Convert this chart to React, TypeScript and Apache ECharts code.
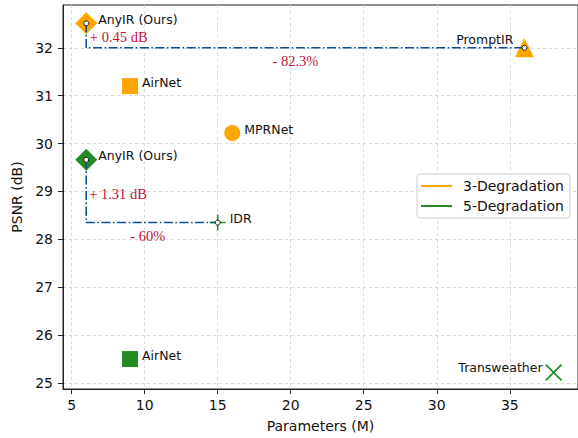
import React, { useEffect, useRef } from "react";
import * as echarts from "echarts";

const methods3 = ["AnyIR (Ours)", "AirNet", "MPRNet", "PromptIR"];
const params3 = [6, 9, 16, 36];
const psnr3 = [32.51, 31.2, 30.22, 32.0];
const symbols3 = ["diamond", "rect", "circle", "triangle"];

const methods5 = ["AnyIR (Ours)", "AirNet", "IDR", "Transweather"];
const params5 = [6, 9, 15, 38];
const psnr5 = [29.66, 25.5, 28.35, 25.22];
const symbols5 = ["diamond", "rect", "plus", "cross"];

const xTicks = [5, 10, 15, 20, 25, 30, 35];
const yTicks = [25, 26, 27, 28, 29, 30, 31, 32];

const annotTexts = ["+ 0.45 dB", "- 82.3%", "+ 1.31 dB", "- 60%"];
const annotX = [6.25, 20.32, 6.2, 10.22];
const annotY = [32.23, 31.715, 28.946, 28.068];

const ORANGE = "#FFA500";
const GREEN = "#228B22";
const NAVY = "#104E8B";
const RED = "#C4123A";

const PLUS = "path://M7.2,0 H8.8 V7.2 H16 V8.8 H8.8 V16 H7.2 V8.8 H0 V7.2 H7.2 Z";
const CROSS =
  "path://M0,1.1 L1.1,0 L8,6.9 L14.9,0 L16,1.1 L9.1,8 L16,14.9 L14.9,16 L8,9.1 L1.1,16 L0,14.9 L6.9,8 Z";

function symbolFor(name: string) {
  if (name === "plus") return PLUS;
  if (name === "cross") return CROSS;
  return name;
}
function sizeFor(name: string) {
  if (name === "diamond") return 22;
  if (name === "triangle") return 19;
  if (name === "plus") return 16;
  if (name === "cross") return 17;
  return 16;
}

export default function App() {
  const ref = useRef<HTMLDivElement>(null);
  useEffect(() => {
    if (!ref.current) return;
    const chart = echarts.init(ref.current, null, { renderer: "svg" });
    const font = "DejaVu Sans";

    const labelItems = (
      names: string[],
      xs: number[],
      ys: number[]
    ) =>
      names.map((n, i) => {
        const item: any = { value: [xs[i], ys[i]], name: n };
        if (n === "PromptIR") {
          item.label = { position: "left", distance: 11, offset: [0, -8] };
        } else if (n === "Transweather") {
          item.label = { position: "left", distance: 11, offset: [0, -5] };
        }
        return item;
      });

    const option: any = {
      animation: false,
      textStyle: { fontFamily: font },
      grid: {
        left: 63,
        top: 5,
        width: 518,
        height: 386,
        show: true,
        borderColor: "#222",
        borderWidth: 1,
        backgroundColor: "transparent",
      },
      legend: {
        orient: "vertical",
        left: 417,
        top: 174,
        selectedMode: false,
        data: [
          { name: "3-Degradation", icon: "rect" },
          { name: "5-Degradation", icon: "rect" },
        ],
        itemWidth: 31,
        itemHeight: 2,
        itemGap: 6,
        padding: [5, 6, 5, 4],
        borderColor: "#cccccc",
        borderWidth: 1,
        borderRadius: 3,
        backgroundColor: "rgba(255,255,255,0.85)",
        textStyle: {
          fontFamily: font,
          fontSize: 14,
          color: "#111",
          padding: [0, 0, 0, 6],
        },
      },
      xAxis: {
        type: "value",
        min: 4.41,
        max: 39.67,
        name: "Parameters (M)",
        nameLocation: "middle",
        nameGap: 30,
        nameTextStyle: { fontFamily: font, fontSize: 14, color: "#111" },
        axisLine: { show: true, lineStyle: { color: "#222", width: 1 } },
        axisTick: {
          show: true,
          length: 5,
          customValues: xTicks,
          lineStyle: { color: "#222" },
        },
        axisLabel: {
          customValues: xTicks,
          fontFamily: font,
          fontSize: 14,
          color: "#111",
          margin: 9,
        },
        splitLine: {
          show: true,
          lineStyle: { color: "#cfcfcf", type: [3, 3], width: 0.8 },
        },
      },
      yAxis: {
        type: "value",
        min: 24.875,
        max: 32.893,
        name: "PSNR (dB)",
        nameLocation: "middle",
        nameGap: 32,
        nameTextStyle: { fontFamily: font, fontSize: 14, color: "#111" },
        axisLine: { show: true, lineStyle: { color: "#222", width: 1 } },
        axisTick: {
          show: true,
          length: 5,
          customValues: yTicks,
          lineStyle: { color: "#222" },
        },
        axisLabel: {
          customValues: yTicks,
          fontFamily: font,
          fontSize: 14,
          color: "#111",
          margin: 10,
        },
        splitLine: {
          show: true,
          lineStyle: { color: "#cfcfcf", type: [3, 3], width: 0.8 },
        },
      },
      series: [
        {
          name: "3-Degradation",
          type: "scatter",
          itemStyle: { color: ORANGE, opacity: 1 },
          data: methods3.map((n, i) => ({
            name: n,
            value: [params3[i], psnr3[i]],
            symbol: symbolFor(symbols3[i]),
            symbolSize: sizeFor(symbols3[i]),
          })),
          z: 2,
        },
        {
          name: "5-Degradation",
          type: "scatter",
          itemStyle: { color: GREEN, opacity: 1 },
          data: methods5.map((n, i) => ({
            name: n,
            value: [params5[i], psnr5[i]],
            symbol: symbolFor(symbols5[i]),
            symbolSize: sizeFor(symbols5[i]),
          })),
          z: 2,
        },
        {
          type: "line",
          symbol: "none",
          silent: true,
          lineStyle: { color: NAVY, width: 1.6, type: [9, 2.5, 1.6, 2.5] },
          data: [
            [params3[0], psnr3[0]],
            [params3[0], psnr3[3]],
            [params3[3], psnr3[3]],
          ],
          z: 3,
        },
        {
          type: "line",
          symbol: "none",
          silent: true,
          lineStyle: { color: NAVY, width: 1.6, type: [9, 2.5, 1.6, 2.5] },
          data: [
            [params5[0], psnr5[0]],
            [params5[0], psnr5[2]],
            [params5[2], psnr5[2]],
          ],
          z: 3,
        },
        {
          type: "scatter",
          symbol: "circle",
          symbolSize: 5,
          itemStyle: { color: "#fff", borderColor: "#111", borderWidth: 1, opacity: 1 },
          data: [
            [params3[0], psnr3[0]],
            [params3[3], psnr3[3]],
            [params5[0], psnr5[0]],
            [params5[2], psnr5[2]],
          ],
          z: 4,
        },
        {
          type: "scatter",
          symbolSize: 0,
          silent: true,
          itemStyle: { opacity: 1 },
          label: {
            show: true,
            position: "right",
            distance: 12,
            offset: [0, -4],
            formatter: (p: any) => p.name,
            fontFamily: font,
            fontSize: 12.5,
            color: "#111",
          },
          data: [
            ...labelItems(methods3, params3, psnr3),
            ...labelItems(methods5, params5, psnr5),
          ],
          z: 5,
        },
        {
          type: "scatter",
          symbolSize: 0,
          silent: true,
          itemStyle: { opacity: 1 },
          label: {
            show: true,
            position: "right",
            distance: 0,
            formatter: (p: any) => p.name,
            fontFamily: "Liberation Serif",
            fontSize: 14.5,
            color: RED,
          },
          data: annotTexts.map((t, i) => {
            const item: any = { name: t, value: [annotX[i], annotY[i]] };
            if (t.startsWith("-")) {
              item.label = { position: "inside" };
            }
            return item;
          }),
          z: 5,
        },
      ],
    };
    chart.setOption(option);
    return () => chart.dispose();
  }, []);
  return (
    <div
      ref={ref}
      style={{ position: "absolute", left: 0, top: 0, width: 578, height: 438 }}
    />
  );
}
